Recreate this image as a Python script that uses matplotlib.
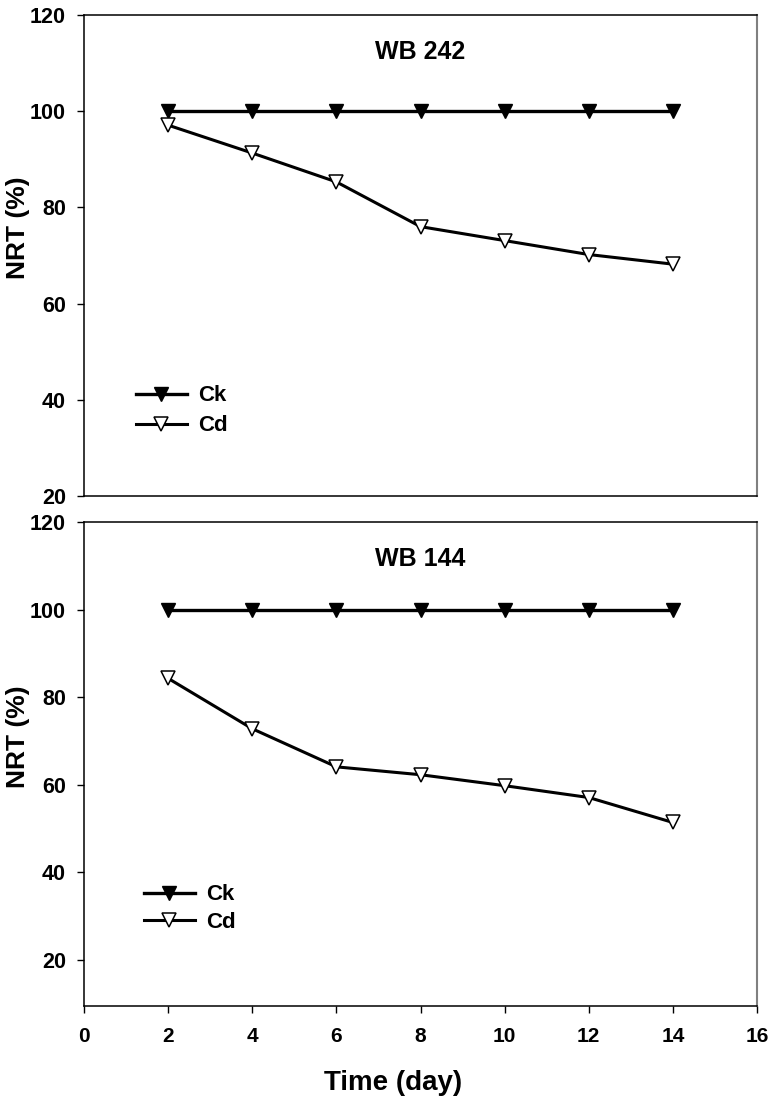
import matplotlib
matplotlib.use('Agg')
import matplotlib.pyplot as plt

plt.rcParams['font.family'] = ['Liberation Sans', 'DejaVu Sans']
plt.rcParams['font.weight'] = 'bold'

# data
days = [2, 4, 6, 8, 10, 12, 14]
ck_242 = [100, 100, 100, 100, 100, 100, 100]
cd_242 = [97.1, 91.3, 85.3, 76.0, 73.1, 70.2, 68.2]
ck_144 = [100, 100, 100, 100, 100, 100, 100]
cd_144 = [84.3, 72.8, 64.1, 62.3, 59.8, 57.1, 51.4]
y_ticks = [20, 40, 60, 80, 100, 120]
x_ticks = [0, 2, 4, 6, 8, 10, 12, 14, 16]

fig = plt.figure(figsize=(7.78, 11.07), dpi=100)
W, H = 778, 1107
left, right = 84 / W, 757 / W
ax1 = fig.add_axes([left, 1 - 496 / H, right - left, (496 - 15) / H])
ax2 = fig.add_axes([left, 1 - 1006 / H, right - left, (1006 - 522) / H])


def style(ax, ymin, show_x):
    ax.set_xlim(0, 16)
    ax.set_ylim(ymin, 120)
    ax.set_yticks(y_ticks)
    ax.set_xticks(x_ticks)
    for s in ['left', 'bottom', 'top']:
        ax.spines[s].set_linewidth(1.1)
        ax.spines[s].set_color('black')
    ax.spines['right'].set_color('#808080')
    ax.spines['right'].set_linewidth(1.5)
    ax.tick_params(axis='y', direction='out', length=5, width=1, pad=8, labelsize=15.5)
    if show_x:
        ax.tick_params(axis='x', direction='out', length=5, width=1, pad=10, labelsize=15)
    else:
        ax.tick_params(axis='x', length=0, labelbottom=False)


def draw(ax, ck, cd, title, ymin, leg_xy, spacing):
    ax.plot(days, ck, color='black', lw=2.4, marker='v', ms=9.5,
            mfc='black', mec='black', label='Ck')
    ax.plot(days, cd, color='black', lw=2.2, marker='v', ms=9.5,
            mfc='white', mec='black', mew=1.1, label='Cd')
    ax.text(8, 120 - (120 - ymin) * 0.077, title, ha='center', va='center',
            fontsize=18, fontweight='bold')
    ax.legend(loc='center left', bbox_to_anchor=leg_xy, frameon=False,
              fontsize=16, handlelength=2.3, handletextpad=0.5,
              labelspacing=spacing, borderpad=0, borderaxespad=0)


draw(ax1, ck_242, cd_242, 'WB 242', 20, (0.077, 0.177), 0.4)
style(ax1, 20, False)
draw(ax2, ck_144, cd_144, 'WB 144', 9.5, (0.089, 0.201), 0.3)
style(ax2, 9.5, True)

fig.text(18 / W, 1 - 228 / H, 'NRT (%)', rotation=90, ha='center', va='center',
         fontsize=19, fontweight='bold')
fig.text(18 / W, 1 - 737 / H, 'NRT (%)', rotation=90, ha='center', va='center',
         fontsize=19, fontweight='bold')
fig.text(393 / W, 1 - 1083 / H, 'Time (day)', ha='center', va='center',
         fontsize=20, fontweight='bold')

fig.savefig('out.png', dpi=100)
